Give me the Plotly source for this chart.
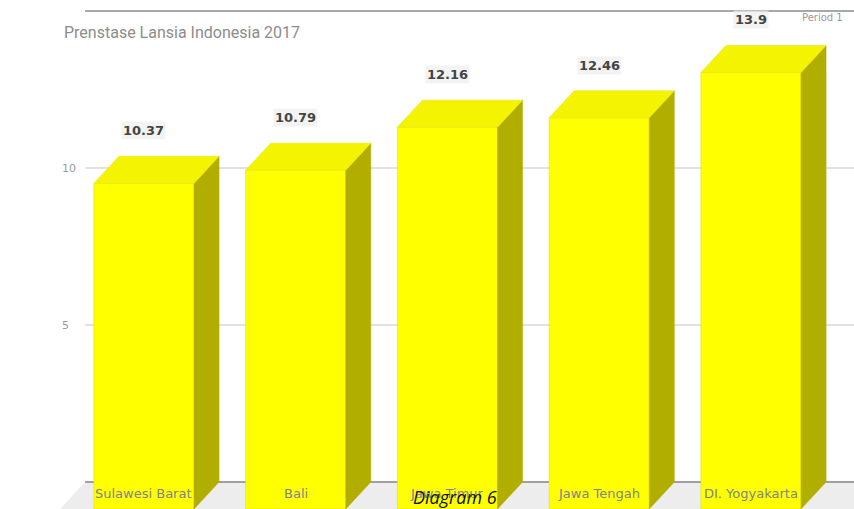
import plotly.graph_objects as go

# ---- data ----
categories = ["Sulawesi Barat", "Bali", "Jawa Timur", "Jawa Tengah", "DI. Yogyakarta"]
values = [10.37, 10.79, 12.16, 12.46, 13.9]
tick_vals = [5, 10, 15]
tick_text = ["5", "10", ""]
title_text = "Prenstase Lansia Indonesia 2017"
period_text = "Period 1"
caption_text = "Diagram 6"

# ---- pseudo-3D geometry (in axis units) ----
W = 0.66      # bar width
DX = 0.165    # depth offset x
DY = 0.86     # depth offset y
FLOOR_L = -0.553
FLOOR_R = 4.75

FRONT = "#ffff00"
TOP = "#f4f400"
SIDE = "#b2ae00"

fig = go.Figure()

xs = list(range(len(categories)))

# front faces as bars
fig.add_trace(go.Bar(
    x=[i - DX for i in xs], y=values, base=-DY, width=W,
    marker=dict(color=FRONT, line=dict(color="#e0dc00", width=0.5)),
    hoverinfo="skip", showlegend=False,
))

# side and top faces
for i, v in zip(xs, values):
    fl, fr = i - DX - W / 2, i - DX + W / 2
    bl, br = i - W / 2, i + W / 2
    fig.add_trace(go.Scatter(
        x=[fr, br, br, fr, fr], y=[-DY, 0, v, v - DY, -DY],
        fill="toself", fillcolor=SIDE, mode="lines",
        line=dict(color=SIDE, width=0.5), hoverinfo="skip", showlegend=False))
    fig.add_trace(go.Scatter(
        x=[fl, bl, br, fr, fl], y=[v - DY, v, v, v - DY, v - DY],
        fill="toself", fillcolor=TOP, mode="lines",
        line=dict(color="#e6e200", width=0.5), hoverinfo="skip", showlegend=False))

shapes = []
# floor
shapes.append(dict(
    type="path", xref="x", yref="y", layer="below",
    path=f"M {FLOOR_L},0 L {FLOOR_R},0 L {FLOOR_R - DX},{-DY} L {FLOOR_L - DX},{-DY} Z",
    fillcolor="#ededed", line=dict(width=0)))
# back-wall gridlines
for t in tick_vals:
    shapes.append(dict(
        type="line", xref="x", yref="y", layer="below",
        x0=FLOOR_L, x1=FLOOR_R, y0=t, y1=t,
        line=dict(color="#a8a8a8" if t == 15 else "#d9d9d9", width=2 if t == 15 else 1.5)))
# base line
shapes.append(dict(
    type="line", xref="x", yref="y", layer="below",
    x0=FLOOR_L, x1=FLOOR_R, y0=0, y1=0,
    line=dict(color="#a0a0a0", width=2)))

annotations = []
for i, v in zip(xs, values):
    annotations.append(dict(
        x=i - DX, y=v + 0.82, xref="x", yref="y", text=str(v), showarrow=False,
        font=dict(family="DejaVu Sans", size=13, color="#444444", weight="bold"),
        bgcolor="rgba(238,238,238,0.7)"))
for i, c in zip(xs, categories):
    annotations.append(dict(
        x=i - DX, y=-0.36, xref="x", yref="y", text=c, showarrow=False,
        font=dict(family="DejaVu Sans", size=13, color="#7d8590")))

annotations.append(dict(
    x=62, y=32, xref="paper", yref="paper", text=title_text, showarrow=False,
    xanchor="left", yanchor="middle",
    font=dict(family="Roboto", size=16, color="#8c8c8c")))
annotations.append(dict(
    x=800, y=17, xref="paper", yref="paper", text=period_text, showarrow=False,
    xanchor="left", yanchor="middle",
    font=dict(family="DejaVu Sans", size=10, color="#9a9a9a")))
annotations.append(dict(
    x=455, y=497, xref="paper", yref="paper", text="<i>" + caption_text + "</i>",
    showarrow=False, xanchor="center", yanchor="middle",
    font=dict(family="Open Sans", size=18, color="#111111")))

# convert paper-pixel annotations to paper fractions
L = 55
PW, PH = 854 - L, 509
for a in annotations:
    if a["xref"] == "paper":
        a["x"] = (a["x"] - L) / PW
        a["y"] = 1 - a["y"] / PH

fig.update_layout(
    width=854, height=509,
    margin=dict(l=L, r=0, t=0, b=0),
    paper_bgcolor="white", plot_bgcolor="white",
    shapes=shapes, annotations=annotations,
    showlegend=False,
    xaxis=dict(range=[-0.7512, 4.514], showgrid=False, zeroline=False,
               showticklabels=False, showline=False, fixedrange=True),
    yaxis=dict(range=[-0.86, 15.35], showgrid=False, zeroline=False,
               tickvals=tick_vals, ticktext=tick_text,
               ticklabelposition="inside", ticklabelstandoff=4,
               tickfont=dict(family="DejaVu Sans", size=11, color="#9a9a9a"),
               showline=False, fixedrange=True),
)

fig.write_html("out.html")
